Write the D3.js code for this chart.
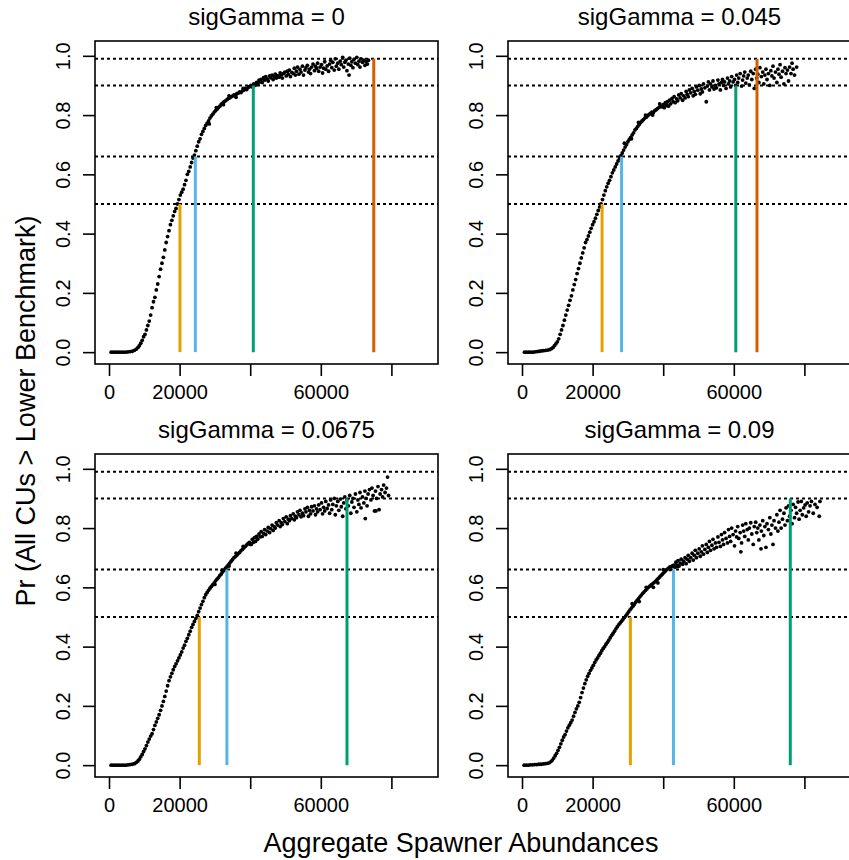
<!DOCTYPE html>
<html>
<head>
<meta charset="utf-8">
<script src="https://cdn.jsdelivr.net/npm/d3@7"></script>
<style>
body { margin: 0; background: #fff; }
text { font-family: "Liberation Sans", Arial, sans-serif; fill: #000; }
</style>
</head>
<body>
<div id="chart"></div>
<script>
const titles = ["sigGamma = 0", "sigGamma = 0.045", "sigGamma = 0.0675", "sigGamma = 0.09"];
const thresholds = [0.5, 0.66, 0.9, 0.99];
const benchColors = ["#E69F00", "#56B4E9", "#009E73", "#D55E00"];
const benchAbund = [
    [20100, 24450, 40880, 75000],
    [22680, 28210, 60560, 66570],
    [25580, 33400, 67420],
    [30700, 42900, 76000]
];
const xTicks = [0, 20000, 40000, 60000, 80000];
const xTickLabels = ["0", "20000", "", "60000", ""];
const yTicks = [0, 0.2, 0.4, 0.6, 0.8, 1.0];
const yTickLabels = ["0.0", "0.2", "0.4", "0.6", "0.8", "1.0"];

const pts0 = [[600,0],[1200,0],[1800,0],[2400,0],[3000,0],[3600,0],[4200,0],[4800,0],[5400,0.001],[6000,0.002],[6600,0.003],[7200,0.006],[7700,0.01],[8200,0.016],[8600,0.022],[9000,0.03],[9400,0.04],[9800,0.052],[10200,0.06],[10600,0.075],[11000,0.09],[11400,0.105],[11800,0.125],[12200,0.15],[12600,0.17],[13000,0.185],[13400,0.21],[13800,0.23],[14200,0.255],[14600,0.28],[15000,0.3],[15400,0.32],[15800,0.345],[16200,0.37],[16600,0.39],[17000,0.41],[17400,0.43],[17800,0.445],[18200,0.46],[18600,0.475],[19000,0.485],[19400,0.5],[19800,0.515],[20200,0.53],[20600,0.54],[21000,0.55],[21400,0.565],[21800,0.58],[22200,0.6],[22600,0.61],[23000,0.625],[23400,0.64],[23800,0.655],[24200,0.665],[24600,0.68],[25000,0.695],[25400,0.71],[25800,0.72],[26200,0.735],[26600,0.745],[27000,0.755],[27400,0.765],[27800,0.773],[28200,0.78],[28400,0.77],[28600,0.79],[29000,0.797],[29400,0.803],[29800,0.81],[30200,0.815],[30400,0.825],[30600,0.82],[31000,0.826],[31400,0.83],[31800,0.837],[32200,0.84],[32400,0.835],[32600,0.845],[33000,0.848],[33400,0.852],[33800,0.856],[34000,0.865],[34200,0.858],[34600,0.862],[35000,0.864],[35400,0.868],[35800,0.866],[36000,0.86],[36200,0.872],[36600,0.874],[37000,0.878],[37400,0.876],[37800,0.882],[38000,0.89],[38200,0.884],[38600,0.89],[39000,0.886],[39400,0.893],[39800,0.896],[40200,0.9],[40600,0.895],[41000,0.905],[41400,0.9],[41800,0.91],
[42200,0.905],[42500,0.918],[42800,0.912],[43100,0.92],[43400,0.91],[43800,0.926],[44100,0.918],[44400,0.93],[44800,0.922],[45100,0.915],[45500,0.932],[45800,0.926],[46200,0.935],[46500,0.92],[46800,0.93],[47100,0.938],[47400,0.925],[47800,0.933],[48200,0.928],[48500,0.942],[48800,0.935],[49100,0.925],[49400,0.94],[49800,0.945],[50200,0.932],[50500,0.948],[50800,0.938],[51100,0.952],[51400,0.93],[51800,0.944],[52200,0.94],[52500,0.958],[52800,0.935],[53100,0.948],[53400,0.962],[53800,0.938],[54100,0.955],[54400,0.945],[54800,0.965],[55100,0.935],[55500,0.952],[55800,0.96],[56200,0.968],[56500,0.945],[56800,0.955],[57100,0.94],[57400,0.962],[57800,0.972],[58200,0.95],[58500,0.965],[58800,0.958],[59100,0.975],[59400,0.948],[59800,0.962],[60200,0.97],[60500,0.942],[60800,0.958],[61100,0.98],[61400,0.955],[61800,0.966],[62200,0.948],[62500,0.972],[62800,0.985],[63100,0.96],[63400,0.978],[63800,0.952],[64100,0.99],[64400,0.965],[64800,0.975],[65100,0.955],[65500,0.982],[65800,0.97],[66200,0.995],[66500,0.962],[66800,0.978],[67100,0.985],[67400,0.95],[67800,0.972],[68000,0.935],[68200,0.992],[68500,0.968],[68800,0.98],[69100,0.96],[69400,0.988],[69800,0.975],[70200,0.995],[70500,0.97],[70800,0.982],[71100,0.962],[71400,0.99],[71800,0.978],[72200,0.985],[72500,0.968],[72800,0.98],[73200,0.972],[73500,0.985]];

const pts045 = [[700,0],[1300,0],[1900,0],[2500,0],[3100,0],[3700,0.001],[4300,0.002],[4900,0.003],[5500,0.004],[6100,0.005],[6700,0.006],[7300,0.007],[7900,0.009],[8400,0.012],[8800,0.016],[9200,0.022],[9600,0.028],[10000,0.035],[10400,0.045],[10800,0.06],[11200,0.075],[11600,0.09],[12000,0.108],[12400,0.125],[12800,0.142],[13200,0.158],[13600,0.175],[14000,0.19],[14400,0.21],[14800,0.228],[15200,0.245],[15600,0.265],[16000,0.282],[16400,0.3],[16800,0.318],[17200,0.335],[17600,0.352],[18000,0.37],[18400,0.38],[18800,0.392],[19200,0.405],[19600,0.418],[20000,0.43],[20400,0.44],[20800,0.452],[21200,0.465],[21600,0.478],[22000,0.49],[22400,0.5],[22800,0.515],[23200,0.53],[23600,0.545],[24000,0.558],[24400,0.57],[24800,0.58],[25200,0.592],[25600,0.605],[26000,0.615],[26400,0.625],[26800,0.635],[27200,0.645],[27600,0.655],[28000,0.663],[28400,0.672],[28800,0.682],[29000,0.705],[29200,0.692],[29600,0.7],[30000,0.71],[30400,0.718],[30800,0.725],[31000,0.72],[31200,0.733],[31600,0.74],[32000,0.75],[32400,0.755],[32800,0.762],[33000,0.775],[33200,0.768],[33600,0.775],[34000,0.78],[34400,0.785],[34800,0.79],[35000,0.8],[35200,0.793],[35600,0.798],[36000,0.802],[36400,0.806],[36800,0.81],[37000,0.8],[37200,0.808],[37600,0.815],[38000,0.818],[38400,0.822],[38800,0.826],[39000,0.838],[39200,0.83],[39600,0.828],[40000,0.835],
[40300,0.825],[40600,0.842],[40900,0.832],[41000,0.835],[41200,0.845],[41500,0.83],[41800,0.85],[42100,0.838],[42500,0.856],[42800,0.845],[43100,0.862],[43400,0.842],[43800,0.855],[44100,0.848],[44400,0.868],[44800,0.858],[45100,0.872],[45500,0.85],[45800,0.865],[46200,0.858],[46500,0.88],[46800,0.87],[47100,0.862],[47400,0.885],[47800,0.875],[48200,0.89],[48500,0.865],[48800,0.88],[49100,0.87],[49400,0.895],[49800,0.884],[50200,0.9],[50500,0.872],[50800,0.888],[51100,0.878],[51400,0.905],[51800,0.892],[52200,0.845],[52500,0.898],[52800,0.912],[53100,0.885],[53400,0.905],[53800,0.895],[54100,0.915],[54400,0.888],[54800,0.9],[55100,0.892],[55500,0.918],[55800,0.905],[56200,0.885],[56500,0.91],[56800,0.92],[57100,0.9],[57400,0.912],[57800,0.89],[58200,0.925],[58500,0.905],[58800,0.915],[59100,0.895],[59400,0.93],[59800,0.912],[60200,0.92],[60500,0.9],[60800,0.935],[61100,0.91],[61400,0.925],[61800,0.94],[62200,0.898],[62500,0.918],[62800,0.932],[63100,0.945],[63400,0.908],[63800,0.925],[64100,0.935],[64400,0.902],[64800,0.948],[65100,0.92],[65500,0.94],[65800,0.89],[66200,0.955],[66500,0.925],[66800,0.938],[67100,0.91],[67400,0.96],[67800,0.93],[68200,0.945],[68500,0.905],[68800,0.935],[69100,0.955],[69400,0.92],[69800,0.94],[70200,0.9],[70500,0.95],[70800,0.932],[71100,0.965],[71400,0.925],[71800,0.945],[72200,0.91],[72500,0.955],[72800,0.938],[73100,0.97],[73400,0.928],[73800,0.948],[74200,0.905],[74500,0.96],[74800,0.94],[75200,0.952],[75500,0.915],[75800,0.962],[76200,0.94],[76500,0.975],[76800,0.955],[77200,0.935],[77800,0.962]];

const pts0675 = [[600,0],[1200,0],[1800,0],[2400,0],[3000,0],[3600,0],[4200,0],[4800,0],[5400,0.001],[6000,0.002],[6600,0.003],[7200,0.005],[7700,0.009],[8200,0.014],[8600,0.02],[9000,0.028],[9400,0.036],[9800,0.046],[10200,0.055],[10600,0.066],[11000,0.078],[11400,0.088],[11800,0.098],[12200,0.106],[12600,0.12],[13000,0.134],[13400,0.146],[13800,0.158],[14200,0.17],[14600,0.185],[15000,0.2],[15400,0.215],[15800,0.232],[16200,0.25],[16600,0.268],[17000,0.285],[17400,0.298],[17800,0.31],[18200,0.322],[18600,0.333],[19000,0.342],[19400,0.352],[19800,0.362],[20200,0.372],[20600,0.382],[21000,0.395],[21400,0.405],[21800,0.418],[22200,0.428],[22600,0.44],[23000,0.452],[23400,0.465],[23800,0.475],[24200,0.485],[24600,0.495],[25000,0.505],[25400,0.518],[25800,0.53],[26200,0.542],[26600,0.553],[27000,0.565],[27400,0.575],[27800,0.583],[28200,0.59],[28600,0.597],[29000,0.603],[29400,0.609],[29800,0.615],[30000,0.61],[30200,0.622],[30600,0.628],[31000,0.633],[31400,0.64],[31800,0.645],[32000,0.658],[32200,0.652],[32600,0.658],[33000,0.665],[33400,0.67],[33800,0.676],[34000,0.672],[34200,0.682],[34600,0.688],[35000,0.694],[35400,0.7],[35800,0.704],[36000,0.715],[36200,0.708],[36600,0.714],[37000,0.718],[37400,0.724],[37800,0.728],[38000,0.738],[38200,0.733],[38600,0.738],[39000,0.743],[39400,0.748],[39800,0.752],[40000,0.745],
[40300,0.745],[40600,0.762],[40900,0.752],[41200,0.768],[41500,0.755],[41800,0.772],[42100,0.762],[42500,0.78],[42800,0.77],[43100,0.788],[43400,0.772],[43800,0.782],[44100,0.795],[44400,0.778],[44800,0.79],[45100,0.802],[45500,0.785],[45800,0.798],[46200,0.81],[46500,0.792],[46800,0.805],[47100,0.8],[47400,0.818],[47800,0.81],[48200,0.825],[48500,0.805],[48800,0.818],[49100,0.812],[49400,0.832],[49800,0.822],[50200,0.838],[50500,0.815],[50800,0.83],[51100,0.825],[51400,0.842],[51800,0.832],[52200,0.848],[52500,0.828],[52800,0.84],[53100,0.835],[53400,0.855],[53800,0.845],[54100,0.86],[54400,0.838],[54800,0.85],[55100,0.842],[55500,0.865],[55800,0.855],[56200,0.87],[56500,0.84],[56800,0.86],[57100,0.848],[57400,0.872],[57800,0.858],[58200,0.875],[58500,0.845],[58800,0.865],[59100,0.855],[59400,0.878],[59800,0.862],[60200,0.885],[60500,0.848],[60800,0.87],[61100,0.858],[61400,0.89],[61800,0.866],[62200,0.878],[62500,0.85],[62800,0.895],[63100,0.862],[63400,0.88],[63800,0.9],[64100,0.845],[64400,0.875],[64800,0.89],[65100,0.86],[65500,0.898],[65800,0.872],[66200,0.84],[66500,0.885],[66800,0.905],[67100,0.865],[67400,0.895],[67800,0.875],[68200,0.91],[68500,0.85],[68800,0.888],[69100,0.9],[69400,0.87],[69800,0.915],[70200,0.855],[70500,0.895],[70800,0.88],[71100,0.92],[71400,0.868],[71800,0.905],[72200,0.885],[72500,0.925],[72600,0.832],[72800,0.9],[73100,0.875],[73400,0.915],[73800,0.93],[74200,0.895],[74500,0.935],[74800,0.91],[75200,0.858],[75500,0.925],[75600,0.858],[75800,0.9],[76200,0.94],[76500,0.862],[76800,0.915],[77200,0.93],[77500,0.905],[77800,0.945],[78200,0.92],[78600,0.935],[78900,0.972],[79200,0.91]];

const pts09 = [[600,0],[1200,0],[1800,0],[2400,0.001],[3000,0.001],[3600,0.002],[4200,0.002],[4800,0.003],[5400,0.003],[6000,0.004],[6600,0.005],[7200,0.006],[7700,0.008],[8200,0.012],[8600,0.017],[9000,0.024],[9400,0.032],[9800,0.04],[10200,0.05],[10600,0.06],[11000,0.072],[11400,0.084],[11800,0.095],[12200,0.103],[12600,0.115],[13000,0.126],[13400,0.135],[13800,0.143],[14200,0.152],[14600,0.165],[15000,0.178],[15400,0.19],[15800,0.2],[16200,0.212],[16600,0.228],[17000,0.245],[17400,0.26],[17800,0.275],[18200,0.288],[18600,0.3],[19000,0.31],[19400,0.32],[19800,0.328],[20200,0.337],[20600,0.346],[21000,0.355],[21400,0.362],[21800,0.37],[22200,0.378],[22600,0.386],[23000,0.394],[23400,0.4],[23800,0.408],[24200,0.415],[24600,0.422],[25000,0.43],[25400,0.438],[25800,0.445],[26200,0.452],[26600,0.46],[27000,0.467],[27400,0.474],[27800,0.48],[28200,0.486],[28600,0.492],[29000,0.498],[29400,0.504],[29800,0.51],[30200,0.517],[30600,0.524],[31000,0.53],[31200,0.545],[31400,0.536],[31800,0.542],[32200,0.55],[32600,0.556],[33000,0.562],[33200,0.552],[33400,0.568],[33800,0.574],[34200,0.58],[34600,0.585],[35000,0.59],[35200,0.6],[35400,0.595],[35800,0.6],[36200,0.604],[36600,0.608],[37000,0.612],[37200,0.6],[37400,0.616],[37800,0.62],[38200,0.625],[38500,0.615],[38600,0.63],[39000,0.635],[39400,0.64],[39800,0.645],[40000,0.66],[40200,0.65],[40600,0.655],[41000,0.66],[41400,0.664],[41800,0.668],[42000,0.66],[42200,0.67],[42600,0.672],[43000,0.675],[44000,0.67],
[43300,0.668],[43600,0.685],[43900,0.675],[44200,0.69],[44500,0.672],[44800,0.682],[45100,0.695],[45500,0.678],[45800,0.688],[46200,0.7],[46500,0.68],[46800,0.695],[47100,0.708],[47400,0.688],[47800,0.7],[48200,0.715],[48500,0.692],[48800,0.708],[49100,0.725],[49400,0.7],[49800,0.715],[50200,0.73],[50500,0.705],[50800,0.72],[51100,0.74],[51400,0.712],[51800,0.728],[52200,0.745],[52500,0.718],[52800,0.735],[53100,0.755],[53400,0.725],[53800,0.742],[54100,0.762],[54400,0.73],[54800,0.75],[55100,0.735],[55500,0.77],[55800,0.752],[56200,0.738],[56500,0.778],[56800,0.76],[57100,0.745],[57400,0.785],[57800,0.765],[58200,0.75],[58500,0.795],[58800,0.772],[59100,0.755],[59400,0.8],[59800,0.778],[60200,0.74],[60500,0.79],[60800,0.77],[61100,0.805],[61400,0.765],[61800,0.785],[62000,0.72],[62200,0.75],[62500,0.81],[62800,0.79],[63100,0.772],[63400,0.815],[63800,0.795],[64100,0.76],[64400,0.8],[64800,0.818],[65100,0.78],[65500,0.745],[65800,0.805],[66200,0.82],[66500,0.785],[66800,0.8],[67100,0.76],[67400,0.81],[67700,0.73],[67800,0.79],[68200,0.825],[68500,0.775],[68800,0.805],[69100,0.735],[69400,0.815],[69800,0.795],[70200,0.835],[70500,0.78],[70800,0.81],[71100,0.745],[71400,0.825],[71800,0.8],[72200,0.845],[72500,0.79],[72800,0.82],[73100,0.86],[73400,0.8],[73800,0.83],[74200,0.85],[74500,0.81],[74800,0.868],[75200,0.825],[75500,0.875],[75800,0.84],[76200,0.86],[76500,0.815],[76800,0.88],[77200,0.835],[77500,0.87],[77800,0.85],[78200,0.888],[78500,0.83],[78800,0.86],[79100,0.89],[79400,0.845],[79800,0.868],[80200,0.878],[80500,0.84],[80800,0.885],[81200,0.855],[81600,0.875],[82000,0.89],[82500,0.85],[83000,0.88],[83600,0.87],[84200,0.84],[84400,0.89]];

const panelPoints = [pts0, pts045, pts0675, pts09];

const width = 849;
const height = 860;
const colLeft = [95, 508];
const rowTop = [41, 454];
const boxW = 343;
const boxH = 323;

let svg = d3.select('#chart')
    .append('svg')
    .attr('width', width)
    .attr('height', height)
    .style('display', 'block');

svg.append('rect').attr('width', width).attr('height', height).attr('fill', '#fff');

for (let i = 0 ; i < 4 ; i++) {
    let left = colLeft[i % 2];
    let top = rowTop[Math.floor(i / 2)];

    let xScale = d3.scaleLinear().domain([-3970, 93200]).range([left, left + boxW]);
    let yScale = d3.scaleLinear().domain([-0.04, 1.05]).range([top + boxH, top]);

    let g = svg.append('g');

    g.selectAll('circle')
        .data(panelPoints[i])
        .enter()
        .append('circle')
        .attr('cx', (d) => xScale(d[0]))
        .attr('cy', (d) => yScale(d[1]))
        .attr('r', 1.9)
        .attr('fill', '#000');

    g.selectAll('line.thr')
        .data(thresholds)
        .enter()
        .append('line')
        .attr('class', 'thr')
        .attr('x1', left)
        .attr('x2', left + boxW)
        .attr('y1', (d) => yScale(d))
        .attr('y2', (d) => yScale(d))
        .attr('stroke', '#000')
        .attr('stroke-width', 2)
        .attr('stroke-dasharray', '3,3');

    g.selectAll('line.bench')
        .data(benchAbund[i])
        .enter()
        .append('line')
        .attr('class', 'bench')
        .attr('x1', (d) => xScale(d))
        .attr('x2', (d) => xScale(d))
        .attr('y1', yScale(0))
        .attr('y2', (d, j) => yScale(thresholds[j]))
        .attr('stroke', (d, j) => benchColors[j])
        .attr('stroke-width', 3);

    g.append('rect')
        .attr('x', left)
        .attr('y', top)
        .attr('width', boxW)
        .attr('height', boxH)
        .attr('fill', 'none')
        .attr('stroke', '#000')
        .attr('stroke-width', 1.6);

    let xAxis = d3.axisBottom(xScale)
        .tickValues(xTicks)
        .tickSize(12)
        .tickPadding(9)
        .tickFormat((d, j) => xTickLabels[j]);

    let xg = g.append('g')
        .attr('transform', `translate(0,${top + boxH})`)
        .call(xAxis);
    xg.select('.domain').remove();
    xg.selectAll('line').attr('stroke-width', 1.6);
    xg.selectAll('text')
        .style('font-size', '20px')
        .style('font-family', '"Liberation Sans", Arial, sans-serif');

    let yAxis = d3.axisLeft(yScale)
        .tickValues(yTicks)
        .tickSize(12)
        .tickFormat((d, j) => yTickLabels[j]);

    let yg = g.append('g')
        .attr('transform', `translate(${left},0)`)
        .call(yAxis);
    yg.select('.domain').remove();
    yg.selectAll('line').attr('stroke-width', 1.6);
    yg.selectAll('text')
        .attr('x', null)
        .attr('dy', null)
        .attr('text-anchor', 'middle')
        .attr('transform', 'translate(-32,0) rotate(-90)')
        .attr('dominant-baseline', 'central')
        .style('font-size', '20px')
        .style('font-family', '"Liberation Sans", Arial, sans-serif');

    g.append('text')
        .attr('x', left + boxW / 2)
        .attr('y', top - 16)
        .attr('text-anchor', 'middle')
        .style('font-size', '24px')
        .text(titles[i]);
}

svg.append('text')
    .attr('x', 461)
    .attr('y', 852)
    .attr('text-anchor', 'middle')
    .style('font-size', '27px')
    .text('Aggregate Spawner Abundances');

svg.append('text')
    .attr('transform', 'translate(35,411) rotate(-90)')
    .attr('text-anchor', 'middle')
    .style('font-size', '27px')
    .text('Pr (All CUs > Lower Benchmark)');
</script>
</body>
</html>
